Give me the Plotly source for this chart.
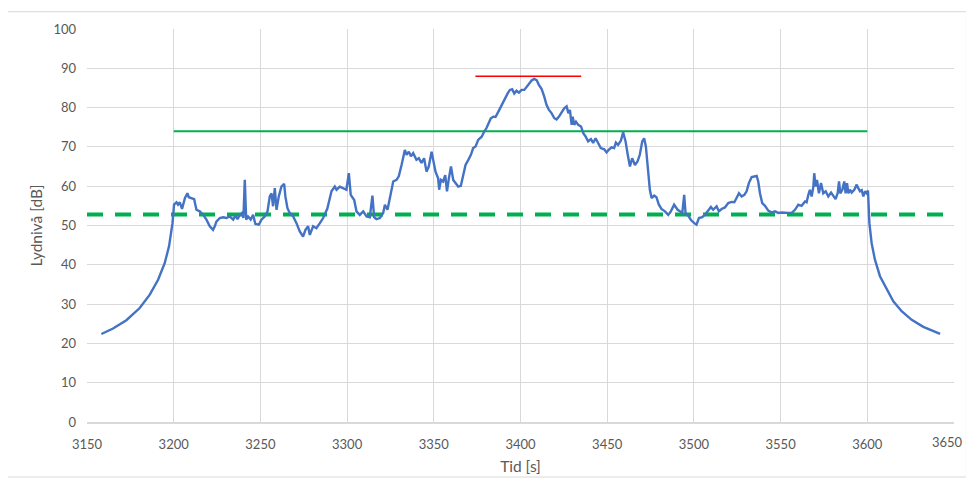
import plotly.graph_objects as go

# Blue measured sound level (time [s], level [dB])
time_s = [
    3158.3, 3165.0, 3172.7, 3180.4, 3186.2, 3191.0, 3194.8, 3197.3, 3199.3, 3200.2,
    3201.6, 3202.5, 3203.5, 3204.8, 3206.5, 3207.9, 3208.7, 3209.8, 3211.8, 3213.1,
    3215.0, 3217.0, 3218.9, 3220.8, 3222.7, 3223.7, 3224.6, 3226.6, 3228.5, 3230.4,
    3232.3, 3234.3, 3235.6, 3236.8, 3238.1, 3239.4, 3240.2, 3241.0, 3241.8, 3242.9,
    3244.4, 3245.8, 3247.1, 3249.1, 3250.6, 3252.5, 3254.1, 3255.4, 3256.4, 3257.3,
    3258.3, 3259.3, 3260.6, 3262.1, 3263.7, 3264.4, 3265.6, 3266.9, 3268.9, 3270.8,
    3272.7, 3274.6, 3276.0, 3277.5, 3278.5, 3280.4, 3282.3, 3284.3, 3286.2, 3288.6,
    3291.0, 3292.9, 3293.9, 3295.8, 3297.7, 3299.6, 3301.0, 3302.1, 3304.1, 3305.4,
    3307.3, 3309.3, 3311.2, 3313.1, 3314.6, 3315.6, 3316.9, 3318.9, 3320.8, 3321.8,
    3323.3, 3325.2, 3326.6, 3328.5, 3329.8, 3331.4, 3333.3, 3334.3, 3335.6, 3336.8,
    3338.1, 3340.0, 3341.4, 3342.9, 3344.4, 3345.8, 3347.1, 3348.7, 3349.6, 3351.0,
    3352.5, 3353.1, 3354.1, 3355.4, 3356.6, 3357.6, 3358.7, 3359.9, 3361.2, 3362.6,
    3364.1, 3365.6, 3367.0, 3368.3, 3369.9, 3371.4, 3372.7, 3374.1, 3375.6, 3377.6,
    3379.1, 3380.4, 3381.8, 3382.9, 3384.3, 3385.6, 3386.8, 3388.1, 3389.5, 3391.0,
    3392.6, 3393.9, 3395.2, 3396.4, 3397.7, 3399.1, 3400.6, 3402.2, 3403.5, 3404.9,
    3406.4, 3407.9, 3409.3, 3410.6, 3412.2, 3413.7, 3415.0, 3416.4, 3417.9, 3419.5,
    3420.8, 3422.2, 3423.7, 3425.2, 3426.6, 3427.6, 3428.5, 3429.5, 3430.1, 3431.0,
    3432.0, 3433.3, 3434.9, 3436.2, 3437.6, 3439.0, 3440.6, 3441.9, 3443.3, 3444.8,
    3446.3, 3448.3, 3449.6, 3451.0, 3452.5, 3454.0, 3455.0, 3456.3, 3457.9, 3459.2,
    3460.6, 3461.7, 3463.1, 3464.4, 3466.0, 3467.5, 3468.8, 3470.2, 3471.3, 3472.3,
    3473.6, 3474.6, 3475.6, 3477.1, 3478.4, 3479.8, 3481.3, 3483.3, 3485.2, 3486.7,
    3488.6, 3490.6, 3491.9, 3493.3, 3494.4, 3495.2, 3496.7, 3498.3, 3500.2, 3501.5,
    3502.9, 3504.8, 3506.3, 3507.9, 3509.8, 3511.1, 3513.1, 3514.4, 3516.0, 3517.9,
    3519.8, 3521.7, 3523.3, 3524.6, 3526.0, 3527.5, 3529.1, 3530.4, 3531.7, 3533.3,
    3534.8, 3536.2, 3537.1, 3538.1, 3539.4, 3541.0, 3542.9, 3544.8, 3546.7, 3548.7,
    3550.6, 3552.5, 3554.4, 3556.4, 3558.3, 3560.2, 3562.1, 3564.1, 3565.0, 3566.0,
    3566.9, 3567.9, 3568.9, 3569.4, 3570.2, 3571.0, 3572.1, 3573.3, 3574.6, 3576.0,
    3577.5, 3579.1, 3580.4, 3581.7, 3582.9, 3583.7, 3584.4, 3585.6, 3586.7, 3587.5,
    3588.3, 3589.1, 3590.0, 3591.0, 3592.5, 3593.9, 3594.8, 3595.8, 3596.8, 3597.7,
    3598.7, 3599.6, 3600.4, 3601.2, 3602.5, 3604.4, 3607.3, 3611.2, 3615.0, 3619.8,
    3625.6, 3632.3, 3638.1, 3642.0,
]
level_db = [
    22.4, 23.8, 25.9, 29.0, 32.4, 36.2, 40.4, 44.7, 50.6, 55.3,
    55.9, 55.3, 55.9, 54.2, 57.0, 58.2, 57.2, 57.0, 56.7, 54.0,
    53.6, 52.7, 51.5, 49.8, 48.9, 49.8, 51.0, 51.9, 52.1, 51.9,
    52.3, 51.5, 52.5, 51.6, 52.7, 53.2, 51.9, 61.6, 51.5, 52.3,
    51.5, 52.7, 50.4, 50.2, 51.5, 52.3, 53.6, 57.4, 58.2, 54.9,
    59.5, 54.0, 57.4, 59.9, 60.6, 57.4, 54.4, 53.2, 52.3, 50.6,
    48.5, 47.2, 48.9, 49.8, 47.6, 49.8, 49.3, 50.6, 51.9, 54.3,
    58.7, 59.9, 59.1, 59.9, 59.5, 59.1, 63.3, 57.8, 56.5, 53.6,
    52.7, 53.6, 52.3, 52.1, 57.6, 52.1, 51.6, 51.9, 53.2, 55.3,
    54.0, 58.2, 61.2, 61.6, 62.5, 65.4, 69.2, 68.0, 68.8, 67.6,
    68.4, 66.7, 67.1, 65.9, 67.1, 63.7, 65.0, 68.8, 66.7, 63.7,
    62.0, 59.1, 61.6, 61.2, 62.8, 58.7, 62.0, 65.0, 61.6, 60.8,
    59.9, 60.1, 63.3, 65.4, 66.7, 68.0, 69.7, 70.1, 71.8, 72.6,
    73.9, 74.8, 76.2, 77.3, 77.7, 77.6, 78.6, 79.8, 81.1, 82.4,
    83.6, 84.5, 84.7, 83.6, 84.3, 83.8, 84.5, 84.5, 85.2, 85.8,
    86.9, 87.3, 87.0, 85.8, 84.7, 82.8, 80.7, 79.4, 78.6, 77.3,
    77.0, 77.7, 78.6, 79.8, 80.3, 78.6, 79.4, 75.6, 77.7, 75.6,
    76.4, 75.6, 75.2, 73.5, 72.6, 71.4, 72.0, 71.0, 72.2, 71.0,
    69.7, 69.4, 68.6, 69.3, 69.9, 69.7, 71.1, 70.5, 71.6, 73.7,
    71.4, 68.4, 65.0, 67.1, 65.4, 66.3, 68.0, 71.4, 72.2, 70.1,
    64.2, 59.1, 57.0, 57.6, 57.2, 55.3, 54.2, 53.6, 52.7, 53.6,
    55.3, 54.0, 53.6, 53.2, 57.8, 53.0, 52.5, 51.4, 50.6, 50.2,
    51.9, 52.1, 52.7, 53.6, 54.7, 54.0, 54.9, 53.6, 54.2, 54.6,
    55.7, 56.0, 55.9, 57.0, 58.2, 57.4, 57.8, 58.7, 60.8, 62.3,
    62.5, 62.6, 61.2, 58.2, 55.7, 55.0, 53.8, 53.3, 53.6, 53.2,
    53.3, 53.2, 53.2, 53.2, 54.0, 55.3, 55.0, 56.1, 55.9, 57.8,
    59.1, 57.4, 59.9, 63.3, 59.9, 61.6, 58.2, 60.8, 58.2, 58.7,
    57.4, 58.4, 57.4, 56.7, 58.2, 61.2, 58.2, 59.1, 61.2, 58.2,
    60.8, 58.2, 59.1, 58.4, 59.1, 60.4, 59.5, 58.7, 59.0, 57.4,
    58.7, 58.2, 58.9, 50.6, 45.5, 41.3, 37.1, 33.7, 30.7, 28.2,
    26.0, 24.2, 23.1, 22.4,
]

# Reference levels
dashed_x = [3150, 3650]
dashed_y = [52.8, 52.8]
green_x = [3200, 3600]
green_y = [74, 74]
red_x = [3374, 3435]
red_y = [88, 88]

x_ticks = [3150, 3200, 3250, 3300, 3350, 3400, 3450, 3500, 3550, 3600, 3650]
x_tick_labels = ["3150", "3200", "3250", "3300", "3350", "3400", "3450",
                 "3500", "3550", "3600", ""]
last_x_tick = 3650
last_x_label = "3650"
y_ticks = [0, 10, 20, 30, 40, 50, 60, 70, 80, 90, 100]

fig = go.Figure()
fig.add_trace(go.Scatter(x=dashed_x, y=dashed_y, mode="lines",
                         line=dict(color="#00B050", width=4, dash="16px,12px"),
                         hoverinfo="skip"))
fig.add_trace(go.Scatter(x=green_x, y=green_y, mode="lines",
                         line=dict(color="#00B050", width=2)))
fig.add_trace(go.Scatter(x=red_x, y=red_y, mode="lines",
                         line=dict(color="#FF0000", width=1.5)))
fig.add_trace(go.Scatter(x=time_s, y=level_db, mode="lines",
                         line=dict(color="#4472C4", width=2.4)))

fnt = dict(family="Lato, Carlito, Calibri, sans-serif", size=13, color="#595959")
tfnt = dict(family="Lato, Carlito, Calibri, sans-serif", size=15.5, color="#595959")

# Page body has an 8px default margin, so the figure is sized/offset to compensate.
fig.update_layout(
    width=966, height=470,
    margin=dict(l=79, r=20, t=21, b=56),
    paper_bgcolor="white", plot_bgcolor="white",
    showlegend=False,
    font=fnt,
    xaxis=dict(range=[3150, 3650], tickvals=x_ticks, ticktext=x_tick_labels,
               showgrid=True, gridcolor="#D9D9D9", gridwidth=1.3, zeroline=False,
               showline=True, linecolor="#D9D9D9", linewidth=1.5,
               ticks="", ticklabelstandoff=10, automargin=False,
               title=dict(text="Tid [s]", font=tfnt, standoff=10)),
    yaxis=dict(range=[0, 100], tickvals=y_ticks, showgrid=True,
               gridcolor="#D9D9D9", gridwidth=1.3, zeroline=False,
               showline=False, ticks="", ticklabelstandoff=10, automargin=False,
               title=dict(text="Lydnivå [dB]", font=tfnt, standoff=6)),
    annotations=[dict(x=last_x_tick, xref="x", y=0, yref="paper",
                      text=last_x_label, showarrow=False, font=fnt,
                      xanchor="center", yanchor="top", xshift=-7, yshift=-10)],
    shapes=[dict(type="rect", xref="paper", yref="paper",
                 x0=-0.0923, x1=1.0143, y0=-0.140, y1=1.044,
                 line=dict(color="#D9D9D9", width=1), layer="below")],
)

fig.write_html("out.html")
